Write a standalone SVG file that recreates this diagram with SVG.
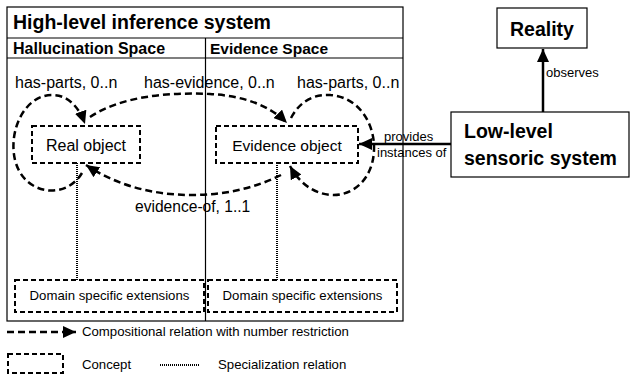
<svg xmlns="http://www.w3.org/2000/svg" width="630" height="376" viewBox="0 0 630 376">
<defs>
<marker id="ah" markerUnits="userSpaceOnUse" markerWidth="14" markerHeight="12" viewBox="0 0 14 12" refX="13" refY="6" orient="auto">
<path d="M0,0 L13,6 L0,12 Z" fill="#000"/>
</marker>
</defs>
<style>
text{font-family:"Liberation Sans",Arial,sans-serif;fill:#000}
.b{font-weight:bold}
.frame{fill:none;stroke:#000;stroke-width:1.2}
.concept{fill:#fff;stroke:#000;stroke-width:2;stroke-dasharray:5,3}
.comp{fill:none;stroke:#000;stroke-width:2.5;stroke-dasharray:7,4}
.spec{fill:none;stroke:#000;stroke-width:2;stroke-dasharray:1,1}
.solid{fill:none;stroke:#000;stroke-width:2.5}
</style>
<rect width="630" height="376" fill="#fff"/>

<g id="inference-system">
<rect class="frame" x="7" y="7" width="396" height="314"/>
<line class="frame" x1="7" y1="38" x2="403" y2="38"/>
<line class="frame" x1="7" y1="58" x2="403" y2="58"/>
<line class="frame" x1="205.5" y1="38" x2="205.5" y2="321"/>
<text class="b" x="13" y="29" font-size="19.5">High-level inference system</text>
<text class="b" x="13" y="54" font-size="16">Hallucination Space</text>
<text class="b" x="210" y="54" font-size="15.5">Evidence Space</text>
</g>

<g id="real-object">
<rect class="concept" x="32" y="126" width="108" height="37"/>
<text x="86" y="151" font-size="16" text-anchor="middle">Real object</text>
</g>

<g id="evidence-object">
<rect class="concept" x="216" y="126" width="142" height="37"/>
<text x="287" y="151" font-size="15.5" text-anchor="middle">Evidence object</text>
</g>

<g id="domain-left">
<rect class="concept" x="15" y="280" width="189" height="32"/>
<text x="109.5" y="300" font-size="13.2" text-anchor="middle">Domain specific extensions</text>
</g>

<g id="domain-right">
<rect class="concept" x="208" y="280" width="189" height="32"/>
<text x="302.5" y="300" font-size="13.2" text-anchor="middle">Domain specific extensions</text>
</g>

<g id="reality">
<rect class="frame" x="497" y="8" width="90" height="40"/>
<text class="b" x="542" y="36" font-size="19.5" text-anchor="middle">Reality</text>
</g>

<g id="low-level">
<rect class="frame" x="451" y="112" width="178" height="65"/>
<text class="b" x="464" y="138" font-size="19.5">Low-level</text>
<text class="b" x="464" y="165" font-size="19.5">sensoric system</text>
</g>

<g id="connectors">
<path class="comp" d="M82,173 C66,200 24,196 15,160 C8,130 25,95 52,95 C68,95 79,107 85,124" marker-end="url(#ah)"/>
<path class="comp" d="M90,117 C120,97 165,92 210,94 C245,96 270,106 287,123" marker-end="url(#ah)"/>
<path class="comp" d="M291,118 C300,101 314,94 330,95 C360,97 375,125 374,150 C373,180 352,196 332,195 C312,194 298,181 290,166" marker-end="url(#ah)"/>
<path class="comp" d="M281,175 C255,188 225,195 192,195 C148,195 113,183 86,165" marker-end="url(#ah)"/>
<line class="spec" x1="77" y1="163" x2="77" y2="280"/>
<line class="spec" x1="277" y1="163" x2="277" y2="280"/>
<line class="solid" x1="451" y1="144" x2="359" y2="144" marker-end="url(#ah)"/>
<line class="solid" x1="543" y1="112" x2="543" y2="49" marker-end="url(#ah)"/>
<text x="15" y="88" font-size="16">has-parts, 0..n</text>
<text x="144" y="88" font-size="16">has-evidence, 0..n</text>
<text x="297" y="88" font-size="16">has-parts, 0..n</text>
<text x="135" y="212" font-size="15.6">evidence-of, 1..1</text>
<text x="384" y="141" font-size="13">provides</text>
<text x="377" y="157" font-size="13">instances of</text>
<text x="546" y="77" font-size="13">observes</text>
</g>

<g id="legend">
<line class="comp" x1="7" y1="332" x2="76" y2="332" stroke-dasharray="7,4" marker-end="url(#ah)"/>
<text x="82" y="336" font-size="13.2">Compositional relation with number restriction</text>
<rect class="concept" x="8" y="354" width="55" height="19"/>
<text x="82" y="369" font-size="13.2">Concept</text>
<line class="spec" x1="160" y1="365" x2="199" y2="365"/>
<text x="218" y="369" font-size="13.2">Specialization relation</text>
</g>
</svg>
